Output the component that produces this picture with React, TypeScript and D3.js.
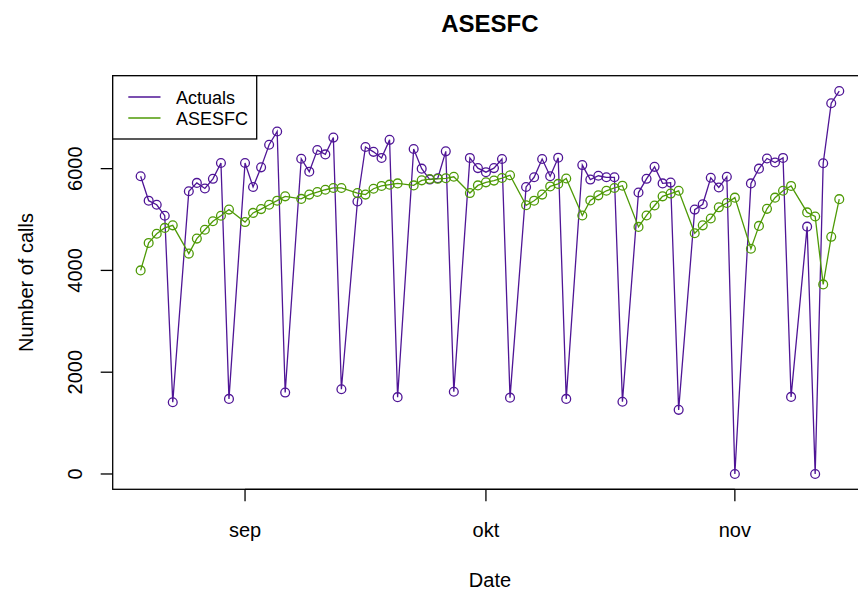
import React from "react";
import * as d3 from "d3";

const dates: string[] = [
  "2014-08-19", "2014-08-20", "2014-08-21", "2014-08-22", "2014-08-23",
  "2014-08-25", "2014-08-26", "2014-08-27", "2014-08-28", "2014-08-29", "2014-08-30",
  "2014-09-01", "2014-09-02", "2014-09-03", "2014-09-04", "2014-09-05", "2014-09-06",
  "2014-09-08", "2014-09-09", "2014-09-10", "2014-09-11", "2014-09-12", "2014-09-13",
  "2014-09-15", "2014-09-16", "2014-09-17", "2014-09-18", "2014-09-19", "2014-09-20",
  "2014-09-22", "2014-09-23", "2014-09-24", "2014-09-25", "2014-09-26", "2014-09-27",
  "2014-09-29", "2014-09-30", "2014-10-01", "2014-10-02", "2014-10-03", "2014-10-04",
  "2014-10-06", "2014-10-07", "2014-10-08", "2014-10-09", "2014-10-10", "2014-10-11",
  "2014-10-13", "2014-10-14", "2014-10-15", "2014-10-16", "2014-10-17", "2014-10-18",
  "2014-10-20", "2014-10-21", "2014-10-22", "2014-10-23", "2014-10-24", "2014-10-25",
  "2014-10-27", "2014-10-28", "2014-10-29", "2014-10-30", "2014-10-31", "2014-11-01",
  "2014-11-03", "2014-11-04", "2014-11-05", "2014-11-06", "2014-11-07", "2014-11-08",
  "2014-11-10", "2014-11-11", "2014-11-12", "2014-11-13", "2014-11-14",
];

const actuals: number[] = [
  5850, 5370, 5290, 5075, 1410,
  5555, 5720, 5610, 5800, 6110, 1475,
  6110, 5640, 6025, 6470, 6730, 1600,
  6195, 5940, 6365, 6280, 6610, 1665,
  5355, 6425, 6330, 6210, 6565, 1510,
  6385, 6000, 5785, 5810, 6340, 1615,
  6210, 6010, 5930, 6010, 6190, 1500,
  5640, 5830, 6190, 5850, 6215, 1475,
  6070, 5785, 5860, 5830, 5830, 1420,
  5530, 5800, 6035, 5710, 5725, 1260,
  5195, 5300, 5820, 5630, 5840, 0,
  5710, 6000, 6200, 6120, 6210, 1515,
  4860, 0, 6105, 7285, 7525,
];

const asesfc: number[] = [
  4000, 4540, 4720, 4835, 4885,
  4330, 4625, 4800, 4965, 5075, 5195,
  4950, 5130, 5205, 5290, 5370, 5455,
  5405, 5490, 5540, 5585, 5620, 5620,
  5520, 5490, 5605, 5660, 5685, 5710,
  5670, 5770, 5795, 5800, 5810, 5840,
  5520, 5670, 5730, 5765, 5815, 5870,
  5280, 5370, 5490, 5650, 5700, 5805,
  5080, 5375, 5475, 5565, 5620, 5665,
  4855, 5080, 5275, 5455, 5510, 5565,
  4730, 4885, 5020, 5240, 5325, 5430,
  4425, 4875, 5210, 5430, 5565, 5660,
  5140, 5060, 3725, 4660, 5400,
];

const yTicks: number[] = [0, 2000, 4000, 6000];
const xTickDates: string[] = ["2014-09-01", "2014-10-01", "2014-11-01"];
const xTickLabels: string[] = ["sep", "okt", "nov"];
const seriesNames: string[] = ["Actuals", "ASESFC"];

const PURPLE = "#4f1596";
const GREEN = "#4E9A06";
const FONT = "'Liberation Sans', Arial, Helvetica, sans-serif";

export default function App() {
  const W = 858, H = 596;
  const left = 112.7, right = 867.2, top = 75.7, bottom = 489.3;

  const parse = d3.utcParse("%Y-%m-%d");
  const xs = dates.map((d) => parse(d) as Date);
  const [x0, x1] = d3.extent(xs) as [Date, Date];
  const xpad = (x1.getTime() - x0.getTime()) * 0.04;
  const x = d3.scaleUtc()
    .domain([new Date(x0.getTime() - xpad), new Date(x1.getTime() + xpad)])
    .range([left, right]);

  const all = actuals.concat(asesfc);
  const [y0, y1] = d3.extent(all) as [number, number];
  const ypad = (y1 - y0) * 0.04;
  const y = d3.scaleLinear().domain([y0 - ypad, y1 + ypad]).range([bottom, top]);

  const line = d3.line<number>()
    .x((_, i) => x(xs[i]))
    .y((v) => y(v));

  const xt = xTickDates.map((d) => x(parse(d) as Date));
  const r = 4.4;

  return (
    <svg width={W} height={H} style={{ position: "absolute", left: 0, top: 0, background: "#fff" }}
      fontFamily={FONT}>
      <rect x={0} y={0} width={W} height={H} fill="#fff" />
      {/* title */}
      <text x={(left + right) / 2} y={32} textAnchor="middle" fontWeight="bold" fontSize={24}>ASESFC</text>

      {/* series */}
      <path d={line(actuals) || ""} fill="none" stroke={PURPLE} strokeWidth={1.3} />
      {actuals.map((v, i) => (
        <circle key={"a" + i} cx={x(xs[i])} cy={y(v)} r={r} fill="none" stroke={PURPLE} strokeWidth={1.3} />
      ))}
      <path d={line(asesfc) || ""} fill="none" stroke={GREEN} strokeWidth={1.3} />
      {asesfc.map((v, i) => (
        <circle key={"f" + i} cx={x(xs[i])} cy={y(v)} r={r} fill="none" stroke={GREEN} strokeWidth={1.3} />
      ))}

      {/* box */}
      <rect x={left} y={top} width={right - left} height={bottom - top} fill="none" stroke="#000" strokeWidth={1.3} />

      {/* y axis */}
      {yTicks.map((t) => (
        <g key={"yt" + t}>
          <line x1={left} x2={left - 12} y1={y(t)} y2={y(t)} stroke="#000" strokeWidth={1.3} />
          <text transform={`translate(82,${y(t)}) rotate(-90)`} textAnchor="middle" fontSize={20}>{t}</text>
        </g>
      ))}
      <text transform={`translate(32.5,${(top + bottom) / 2}) rotate(-90)`} textAnchor="middle" fontSize={20}>Number of calls</text>

      {/* x axis */}
      <line x1={xt[0]} x2={xt[xt.length - 1]} y1={bottom} y2={bottom} stroke="#000" strokeWidth={1.3} />
      {xt.map((px, i) => (
        <g key={"xt" + i}>
          <line x1={px} x2={px} y1={bottom} y2={bottom + 12} stroke="#000" strokeWidth={1.3} />
          <text x={px} y={537} textAnchor="middle" fontSize={20}>{xTickLabels[i]}</text>
        </g>
      ))}
      <text x={(left + right) / 2} y={587} textAnchor="middle" fontSize={20}>Date</text>

      {/* legend */}
      <rect x={left} y={top} width={256.7 - left} height={139 - top} fill="#fff" stroke="#000" strokeWidth={1.3} />
      <line x1={128.3} x2={160.5} y1={97} y2={97} stroke={PURPLE} strokeWidth={1.3} />
      <line x1={128.3} x2={160.5} y1={118} y2={118} stroke={GREEN} strokeWidth={1.3} />
      <text x={176} y={104} fontSize={18}>{seriesNames[0]}</text>
      <text x={176} y={125} fontSize={18}>{seriesNames[1]}</text>
    </svg>
  );
}
